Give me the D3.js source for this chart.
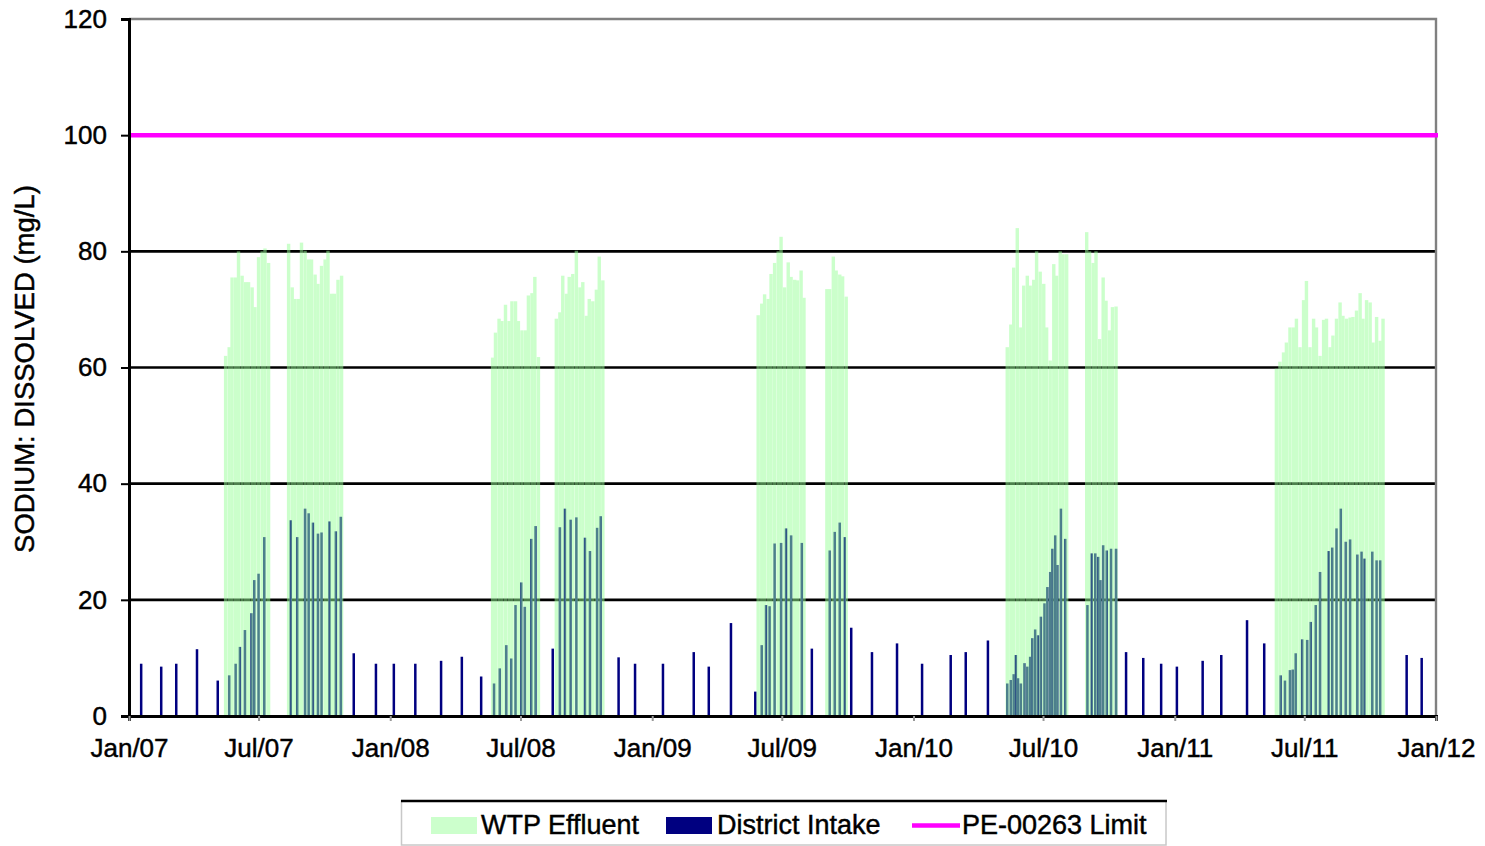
<!DOCTYPE html>
<html>
<head>
<meta charset="utf-8">
<script src="https://cdn.jsdelivr.net/npm/d3@7"></script>
<style>
  body { margin: 0; background: #fff; }
  svg { display: block; }
  text { font-family: "Liberation Sans", Arial, sans-serif; fill: #000; }
  .heavy { stroke: #000; stroke-width: 0.45px; paint-order: stroke; }
</style>
</head>
<body>
<svg id="chart" width="1485" height="846"></svg>
<script>
// Dissolved sodium, mg/L — WTP effluent samples (summer operating seasons)
const effluentDates = [
  "2007-05-16","2007-05-21","2007-05-25","2007-05-30","2007-06-03","2007-06-08","2007-06-13","2007-06-17","2007-06-22","2007-06-26","2007-07-01","2007-07-06","2007-07-10","2007-07-15",
  "2007-08-12","2007-08-17","2007-08-21","2007-08-26","2007-08-30","2007-09-04","2007-09-09","2007-09-13","2007-09-18","2007-09-22","2007-09-27","2007-10-02","2007-10-06","2007-10-11","2007-10-15","2007-10-20","2007-10-25",
  "2008-05-23","2008-05-27","2008-06-01","2008-06-05","2008-06-10","2008-06-15","2008-06-19","2008-06-24","2008-06-28","2008-07-03","2008-07-08","2008-07-12","2008-07-17","2008-07-21","2008-07-26",
  "2008-08-20","2008-08-25","2008-08-29","2008-09-03","2008-09-07","2008-09-12","2008-09-17","2008-09-22","2008-09-26","2008-10-01","2008-10-05","2008-10-10","2008-10-15","2008-10-19","2008-10-24",
  "2009-05-29","2009-06-03","2009-06-07","2009-06-12","2009-06-16","2009-06-21","2009-06-26","2009-06-30","2009-07-05","2009-07-10","2009-07-14","2009-07-19","2009-07-23","2009-07-28","2009-08-01",
  "2009-09-02","2009-09-06","2009-09-11","2009-09-15","2009-09-20","2009-09-24","2009-09-29",
  "2010-05-12","2010-05-17","2010-05-21","2010-05-26","2010-05-31","2010-06-04","2010-06-09","2010-06-13","2010-06-18","2010-06-22","2010-06-27","2010-07-02","2010-07-06","2010-07-11","2010-07-16","2010-07-20","2010-07-25","2010-07-29","2010-08-03",
  "2010-08-31","2010-09-04","2010-09-09","2010-09-13","2010-09-18","2010-09-23","2010-09-27","2010-10-02","2010-10-06","2010-10-11",
  "2011-05-23","2011-05-28","2011-06-02","2011-06-06","2011-06-11","2011-06-16","2011-06-20","2011-06-25","2011-06-30","2011-07-04","2011-07-09","2011-07-14","2011-07-18","2011-07-23","2011-07-28","2011-08-01","2011-08-06",
  "2011-08-10","2011-08-15","2011-08-20","2011-08-24","2011-08-29","2011-09-03","2011-09-07","2011-09-12","2011-09-17","2011-09-21","2011-09-26","2011-10-01","2011-10-05","2011-10-10","2011-10-15","2011-10-19"
];
const effluentValues = [
  62, 63.5, 75.5, 75.5, 80, 75.8, 74.7, 74.7, 73.8, 70.4, 79, 80, 80.5, 78,
  81.3, 73.8, 71.8, 71.8, 81.5, 80.1, 78.6, 78.6, 76, 74.4, 77.5, 78.6, 80.1, 72.7, 72.7, 75.1, 75.8,
  61.7, 66, 68.4, 68, 70.8, 68, 71.4, 71.4, 68, 66.4, 66.4, 72.4, 72.8, 75.6, 61.8,
  68.4, 69.5, 75.8, 72.7, 75.6, 76.1, 80.1, 73.8, 74.7, 68.9, 71.8, 71.4, 73.4, 79.1, 75,
  69, 71, 72.6, 71.8, 76.1, 78, 80, 82.5, 73.8, 78.1, 75.6, 75.1, 75, 76.7, 72,
  73.5, 73.5, 79.1, 76.7, 76, 75.7, 72.2,
  63.5, 67.4, 77.2, 84, 66.9, 74.1, 75.8, 74.1, 75.1, 80, 76.5, 74.4, 66.9, 61.2, 77.8, 75.8, 80, 79.5, 79.5,
  83.3, 80, 78, 80, 64.9, 75.5, 71.5, 66.4, 70.4, 70.5,
  59.8, 61, 62.6, 64.3, 66.9, 66.9, 68.4, 63.5, 71.6, 74.9, 63.5, 68.4, 66.9, 62, 68.2, 68.4, 63.5,
  65.5, 68.4, 71.2, 68.9, 68.4, 68.6, 68.7, 69.8, 72.8, 68.4, 71.6, 71.2, 64.3, 68.7, 64.6, 68.4
];

// Dissolved sodium, mg/L — district intake samples
const intakeDates = [
  "2007-01-18","2007-02-15","2007-03-08","2007-04-06","2007-05-05","2007-05-21","2007-05-30","2007-06-05","2007-06-12","2007-06-21","2007-06-25","2007-07-01","2007-07-09",
  "2007-08-15","2007-08-24","2007-09-04","2007-09-09","2007-09-15","2007-09-22","2007-09-27","2007-10-08","2007-10-17","2007-10-24","2007-11-11","2007-12-12",
  "2008-01-06","2008-02-05","2008-03-12","2008-04-10","2008-05-07","2008-05-25","2008-06-02","2008-06-11","2008-06-18","2008-06-24","2008-07-02","2008-07-07","2008-07-16","2008-07-22",
  "2008-08-15","2008-08-25","2008-09-01","2008-09-09","2008-09-17","2008-09-29","2008-10-06","2008-10-16","2008-10-21","2008-11-15","2008-12-08",
  "2009-01-16","2009-02-28","2009-03-21","2009-04-21","2009-05-25","2009-06-03","2009-06-09","2009-06-14","2009-06-21","2009-06-30","2009-07-07","2009-07-14","2009-07-29","2009-08-12",
  "2009-09-06","2009-09-13","2009-09-20","2009-09-27","2009-10-06","2009-11-04","2009-12-09",
  "2010-01-13","2010-02-22","2010-03-15","2010-04-15","2010-05-12","2010-05-17","2010-05-21","2010-05-24","2010-05-27","2010-05-31","2010-06-05","2010-06-09","2010-06-13","2010-06-16","2010-06-20",
  "2010-06-24","2010-06-28","2010-07-03","2010-07-07","2010-07-11","2010-07-14","2010-07-18","2010-07-21","2010-07-26","2010-08-01",
  "2010-09-01","2010-09-07","2010-09-12","2010-09-16","2010-09-19","2010-09-23","2010-09-28","2010-10-04","2010-10-11","2010-10-25","2010-11-18","2010-12-13",
  "2011-01-04","2011-02-09","2011-03-07","2011-04-12","2011-05-06","2011-05-29","2011-06-04","2011-06-11","2011-06-15","2011-06-19","2011-06-28","2011-07-05","2011-07-10","2011-07-17","2011-07-23",
  "2011-08-04","2011-08-09","2011-08-15","2011-08-21","2011-08-28","2011-09-03","2011-09-13","2011-09-19","2011-09-23","2011-10-04","2011-10-10","2011-10-15","2011-11-21","2011-12-12"
];
const intakeValues = [
  9.0, 8.5, 9.0, 11.5, 6.1, 7.0, 9.0, 11.9, 14.8, 17.7, 23.4, 24.5, 30.8,
  33.7, 30.8, 35.7, 34.9, 33.3, 31.4, 31.6, 33.5, 31.8, 34.3, 10.8, 9.0,
  9.0, 9.0, 9.5, 10.2, 6.8, 5.6, 8.2, 12.2, 9.9, 19.1, 23.0, 18.8, 30.5, 32.7,
  11.6, 32.5, 35.7, 33.8, 34.2, 30.7, 28.4, 32.4, 34.4, 10.1, 9.0,
  9.0, 11.0, 8.5, 16.0, 4.2, 12.2, 19.1, 18.9, 29.7, 29.8, 32.3, 31.1, 29.8, 11.6,
  28.5, 31.7, 33.3, 30.8, 15.2, 11.0, 12.5,
  9.0, 10.5, 11.0, 13.0, 5.6, 6.2, 7.2, 10.5, 6.5, 5.6, 9.1, 8.5, 10.2, 13.4, 14.9,
  13.9, 17.1, 19.4, 22.2, 24.8, 28.8, 31.1, 26.0, 35.7, 30.5,
  19.1, 28.0, 28.0, 27.4, 23.4, 29.4, 28.5, 28.8, 28.8, 11.0, 10.0, 9.0,
  8.5, 9.5, 10.5, 16.5, 12.5, 7.0, 6.1, 7.9, 8.0, 10.8, 13.2, 13.1, 16.2, 19.1, 24.8,
  28.4, 29.0, 32.3, 35.7, 30.0, 30.4, 27.8, 28.3, 27.1, 28.3, 26.8, 26.8, 10.5, 10.0
];

const permitLimit = 100;
const yTicks = [0, 20, 40, 60, 80, 100, 120];
const gridValues = [20, 40, 60, 80];
const xTickDates = ["2007-01-01","2007-07-01","2008-01-01","2008-07-01","2009-01-01","2009-07-01",
                    "2010-01-01","2010-07-01","2011-01-01","2011-07-01","2012-01-01"];
const seriesNames = ["WTP Effluent", "District Intake", "PE-00263 Limit"];
const yTitle = "SODIUM: DISSOLVED (mg/L)";

const parse = d3.timeParse("%Y-%m-%d");
const effluent = effluentDates.map((d, i) => ({ date: parse(d), value: effluentValues[i] }));
const intake = intakeDates.map((d, i) => ({ date: parse(d), value: intakeValues[i] }));

const colors = { effluent: "#99ff99", intake: "#000080", limit: "#ff00ff" };

const svg = d3.select("#chart");
const plot = { left: 129, right: 1436, top: 19, bottom: 716 };

const x = d3.scaleTime()
  .domain([parse(xTickDates[0]), parse(xTickDates[xTickDates.length - 1])])
  .range([plot.left, plot.right]);
const y = d3.scaleLinear().domain([0, 120]).range([plot.bottom, plot.top]);

svg.append("rect").attr("width", 1485).attr("height", 846).attr("fill", "#fff");

// horizontal gridlines
svg.append("g").selectAll("line").data(gridValues).join("line")
  .attr("x1", plot.left).attr("x2", plot.right)
  .attr("y1", d => y(d)).attr("y2", d => y(d))
  .attr("stroke", "#000").attr("stroke-width", 2.6);

// frame: top and right edges
svg.append("path")
  .attr("d", `M${plot.left},${y(120)}H${plot.right}V${plot.bottom}`)
  .attr("fill", "none").attr("stroke", "#808080").attr("stroke-width", 2.4);

// district intake columns
const intakeW = 2.5;
svg.append("g").selectAll("rect").data(intake).join("rect")
  .attr("x", d => x(d.date) - intakeW / 2)
  .attr("width", intakeW)
  .attr("y", d => y(d.value))
  .attr("height", d => y(0) - y(d.value))
  .attr("fill", colors.intake);

// WTP effluent columns; the whole layer is translucent so intake columns show through
const effW = 3.4;
svg.append("g").attr("opacity", 0.5).selectAll("rect").data(effluent).join("rect")
  .attr("x", d => x(d.date) - effW / 2)
  .attr("width", effW)
  .attr("y", d => y(d.value))
  .attr("height", d => y(0) - y(d.value))
  .attr("fill", colors.effluent);

// permit limit
svg.append("line")
  .attr("x1", plot.left).attr("x2", plot.right + 2)
  .attr("y1", y(permitLimit)).attr("y2", y(permitLimit))
  .attr("stroke", colors.limit).attr("stroke-width", 4.5);

// y axis
const yAxis = svg.append("g").attr("transform", `translate(${plot.left},0)`)
  .call(d3.axisLeft(y).tickValues(yTicks).tickSize(8).tickPadding(14).tickFormat(d3.format("d")));
yAxis.select(".domain").attr("stroke", "#000").attr("stroke-width", 3);
yAxis.selectAll(".tick line").attr("stroke", "#000").attr("stroke-width", 2);
yAxis.selectAll(".tick text").attr("font-size", 26).attr("class", "heavy")
  .attr("font-family", "Liberation Sans, Arial, sans-serif").attr("fill", "#000");

// x axis
const xAxis = svg.append("g").attr("transform", `translate(0,${plot.bottom})`)
  .call(d3.axisBottom(x).tickValues(xTickDates.map(parse)).tickSize(5).tickPadding(18)
    .tickFormat(d3.timeFormat("%b/%y")));
xAxis.select(".domain").attr("stroke", "#000").attr("stroke-width", 3);
xAxis.selectAll(".tick line").attr("stroke", "#999").attr("stroke-width", 2);
xAxis.selectAll(".tick text").attr("font-size", 26).attr("class", "heavy")
  .attr("font-family", "Liberation Sans, Arial, sans-serif").attr("fill", "#000");

// y axis title
svg.append("text")
  .attr("class", "heavy")
  .attr("transform", `translate(34,369) rotate(-90)`)
  .attr("text-anchor", "middle")
  .attr("font-size", 27.5)
  .text(yTitle);

// legend
const lg = svg.append("g");
lg.append("rect").attr("x", 401.5).attr("y", 801).attr("width", 764.5).attr("height", 44)
  .attr("fill", "#fff").attr("stroke", "#c8c8c8").attr("stroke-width", 1.5);
lg.append("line").attr("x1", 401).attr("x2", 1167).attr("y1", 801).attr("y2", 801)
  .attr("stroke", "#000").attr("stroke-width", 2.5);

const legendItems = [
  { name: seriesNames[0], kind: "box", color: "#ccffcc", sx: 431, tx: 481 },
  { name: seriesNames[1], kind: "box", color: colors.intake, sx: 666, tx: 717 },
  { name: seriesNames[2], kind: "line", color: colors.limit, sx: 912, tx: 962 }
];
legendItems.forEach(it => {
  if (it.kind === "box") {
    lg.append("rect").attr("x", it.sx).attr("y", 817).attr("width", 46).attr("height", 17).attr("fill", it.color);
  } else {
    lg.append("line").attr("x1", it.sx).attr("x2", it.sx + 48).attr("y1", 825.5).attr("y2", 825.5)
      .attr("stroke", it.color).attr("stroke-width", 4.5);
  }
  lg.append("text").attr("class", "heavy").attr("x", it.tx).attr("y", 834).attr("font-size", 27).text(it.name);
});
</script>
</body>
</html>
